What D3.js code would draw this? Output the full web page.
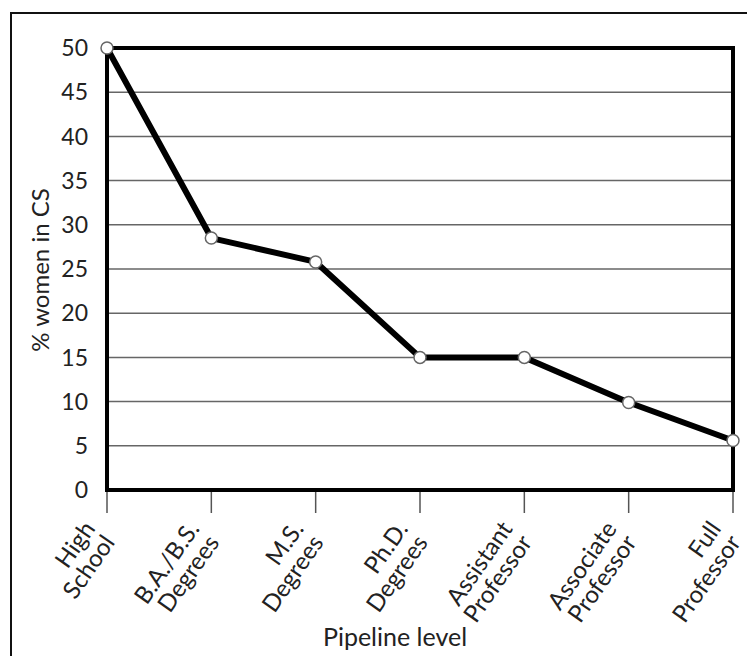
<!DOCTYPE html>
<html>
<head>
<meta charset="utf-8">
<script src="https://cdn.jsdelivr.net/npm/d3@7"></script>
<style>
  body { margin: 0; background: #fff; }
  svg { display: block; font-family: 'Lato', 'Open Sans', sans-serif; }
</style>
</head>
<body>
<svg></svg>
<script>
const levels = [
  ['High', 'School'],
  ['B.A./B.S.', 'Degrees'],
  ['M.S.', 'Degrees'],
  ['Ph.D.', 'Degrees'],
  ['Assistant', 'Professor'],
  ['Associate', 'Professor'],
  ['Full', 'Professor'],
];
const womenPct = [50, 28.5, 25.8, 15, 15, 9.9, 5.6];
const yTicks = [0, 5, 10, 15, 20, 25, 30, 35, 40, 45, 50];

const width = 747;
const height = 656;
const plot = { left: 107, right: 733, top: 48, bottom: 490 };

const svg = d3.select('svg')
  .attr('width', width)
  .attr('height', height);

// outer frame (cut off at right and bottom)
svg.append('rect')
  .attr('x', 11).attr('y', 13)
  .attr('width', 760).attr('height', 680)
  .attr('fill', 'none')
  .attr('stroke', '#111')
  .attr('stroke-width', 2);

const xScale = d3.scalePoint()
  .domain(d3.range(levels.length))
  .range([plot.left, plot.right]);

const yScale = d3.scaleLinear()
  .domain([0, 50])
  .range([plot.bottom, plot.top]);

// gridlines
svg.append('g')
  .selectAll('line')
  .data(yTicks.filter((d) => d > 0 && d < 50))
  .enter()
  .append('line')
    .attr('x1', plot.left).attr('x2', plot.right)
    .attr('y1', (d) => yScale(d)).attr('y2', (d) => yScale(d))
    .attr('stroke', '#666')
    .attr('stroke-width', 1.5);

// y labels
svg.append('g')
  .selectAll('text')
  .data(yTicks)
  .enter()
  .append('text')
    .attr('x', 88)
    .attr('y', (d) => yScale(d))
    .attr('dy', '0.36em')
    .attr('text-anchor', 'end')
    .attr('font-size', 23)
    .attr('fill', '#222')
    .text((d) => d);

// x ticks below the axis
svg.append('g')
  .selectAll('line')
  .data(levels)
  .enter()
  .append('line')
    .attr('x1', (d, i) => xScale(i)).attr('x2', (d, i) => xScale(i))
    .attr('y1', plot.bottom).attr('y2', plot.bottom + 23)
    .attr('stroke', '#555')
    .attr('stroke-width', 1.5);

// x labels
const xl = svg.append('g')
  .selectAll('text')
  .data(levels)
  .enter()
  .append('text')
    .attr('transform', (d, i) => `translate(${xScale(i) - 5},${plot.bottom + 43}) rotate(-55)`)
    .attr('text-anchor', 'end')
    .attr('font-size', 24)
    .attr('fill', '#222');
xl.append('tspan').attr('x', 0).attr('dy', '-0.3em').text((d) => d[0]);
xl.append('tspan').attr('x', 0).attr('dy', '1.0em').text((d) => d[1]);

// plot area border
svg.append('rect')
  .attr('x', plot.left).attr('y', plot.top)
  .attr('width', plot.right - plot.left)
  .attr('height', plot.bottom - plot.top)
  .attr('fill', 'none')
  .attr('stroke', '#000')
  .attr('stroke-width', 4);

// data line
const line = d3.line()
  .x((d, i) => xScale(i))
  .y((d) => yScale(d));

svg.append('path')
  .datum(womenPct)
  .attr('d', line)
  .attr('fill', 'none')
  .attr('stroke', '#000')
  .attr('stroke-width', 6)
  .attr('stroke-linejoin', 'round');

svg.append('g')
  .selectAll('circle')
  .data(womenPct)
  .enter()
  .append('circle')
    .attr('cx', (d, i) => xScale(i))
    .attr('cy', (d) => yScale(d))
    .attr('r', 6)
    .attr('fill', '#fff')
    .attr('stroke', '#666')
    .attr('stroke-width', 1.5);

// axis titles
svg.append('text')
  .attr('transform', 'translate(49,270) rotate(-90)')
  .attr('text-anchor', 'middle')
  .attr('font-size', 24)
  .attr('fill', '#222')
  .text('% women in CS');

svg.append('text')
  .attr('x', 395)
  .attr('y', 646)
  .attr('text-anchor', 'middle')
  .attr('font-size', 25)
  .attr('fill', '#222')
  .text('Pipeline level');
</script>
</body>
</html>
